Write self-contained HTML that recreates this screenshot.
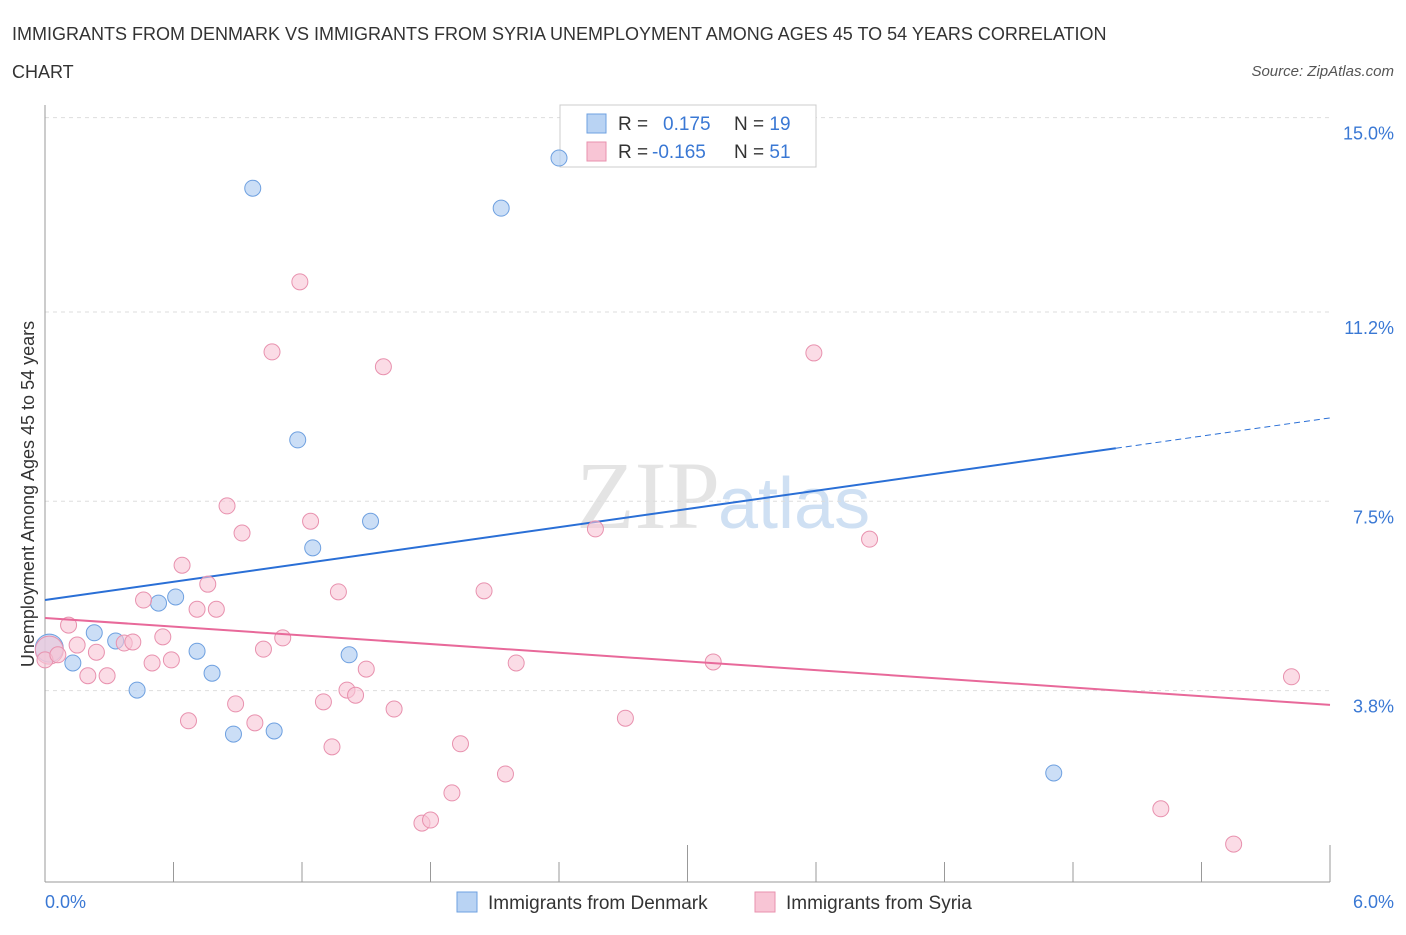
<!DOCTYPE html>
<html><head><meta charset="utf-8"><style>
body{margin:0;background:#fff;font-family:"Liberation Sans",sans-serif;}
</style></head><body>
<svg width="1406" height="930" xmlns="http://www.w3.org/2000/svg" id="chart" style="font-family:'Liberation Sans',sans-serif">
<text x="12" y="40" font-size="18" fill="#333">IMMIGRANTS FROM DENMARK VS IMMIGRANTS FROM SYRIA UNEMPLOYMENT AMONG AGES 45 TO 54 YEARS CORRELATION</text>
<text x="12" y="78" font-size="18" fill="#333">CHART</text>
<text x="1394" y="76" font-size="15" fill="#555" font-style="italic" text-anchor="end">Source: ZipAtlas.com</text>
<text x="720" y="528" font-size="96" fill="#e4e4e4" text-anchor="end" font-family="Liberation Serif,serif">ZIP</text>
<text x="718" y="528" font-size="72" fill="#cfe0f3">atlas</text>
<g id="grid"></g>
<line x1="45" y1="105" x2="45" y2="882" stroke="#999"/>
<line x1="45" y1="882" x2="1330" y2="882" stroke="#999"/>
<g id="ticks"></g>
<text transform="translate(34,494) rotate(-90)" font-size="18" fill="#333" text-anchor="middle">Unemployment Among Ages 45 to 54 years</text>
<text x="45" y="908" font-size="18" fill="#3a78d4">0.0%</text>
<text x="1394" y="908" font-size="18" fill="#3a78d4" text-anchor="end">6.0%</text>
<g>
<rect x="560" y="105" width="256" height="62" fill="#fff" stroke="#ccc"/>
<rect x="587" y="114" width="19" height="19" fill="#b9d3f3" stroke="#6ea0e0"/>
<rect x="587" y="142" width="19" height="19" fill="#f8c5d5" stroke="#e891ae"/>
<text x="618" y="130" font-size="19" fill="#333">R = <tspan fill="#3a78d4" x="663">0.175</tspan><tspan x="734" fill="#333">N = </tspan><tspan fill="#3a78d4">19</tspan></text>
<text x="618" y="158" font-size="19" fill="#333">R = <tspan fill="#3a78d4" x="652">-0.165</tspan><tspan x="734" fill="#333">N = </tspan><tspan fill="#3a78d4">51</tspan></text>
</g>
<g id="marks"></g>
<g>
<rect x="457" y="892" width="20" height="20" fill="#b9d3f3" stroke="#6ea0e0"/>
<text x="488" y="909" font-size="19" fill="#333">Immigrants from Denmark</text>
<rect x="755" y="892" width="20" height="20" fill="#f8c5d5" stroke="#e891ae"/>
<text x="786" y="909" font-size="19" fill="#333">Immigrants from Syria</text>
</g>
</svg>
<script>
const yTicks=[15.0,11.2,7.5,3.8];
const yTickLabels=["15.0%","11.2%","7.5%","3.8%"];
const denX=[0.02,0.13,0.23,0.33,0.43,0.53,0.61,0.71,0.78,0.88,0.97,1.07,1.18,1.25,1.42,1.52,2.13,2.40,4.71];
const denY=[4.63,4.34,4.93,4.77,3.81,5.51,5.63,4.57,4.14,2.95,13.62,3.01,8.70,6.59,4.50,7.11,13.23,14.21,2.19];
const syrX=[0.02,0.00,0.06,0.11,0.15,0.20,0.24,0.29,0.37,0.41,0.46,0.50,0.55,0.59,0.64,0.67,0.71,0.76,0.80,0.85,0.89,0.92,0.98,1.02,1.06,1.11,1.19,1.24,1.30,1.34,1.37,1.41,1.45,1.50,1.58,1.63,1.76,1.80,1.90,1.94,2.05,2.15,2.20,2.57,2.71,3.12,3.59,3.85,5.21,5.55,5.82];
const syrY=[4.59,4.40,4.50,5.08,4.69,4.09,4.55,4.09,4.73,4.75,5.57,4.34,4.85,4.40,6.25,3.21,5.39,5.88,5.39,7.41,3.54,6.88,3.17,4.61,10.42,4.83,11.79,7.11,3.58,2.70,5.73,3.81,3.71,4.22,10.13,3.44,1.21,1.27,1.80,2.76,5.75,2.17,4.34,6.96,3.26,4.36,10.40,6.76,1.49,0.80,4.07];
const denTrend=[5.57,9.13];
const syrTrend=[5.22,3.52];
const NS="http://www.w3.org/2000/svg";
function xs(v){return 45+v*214.17;}
function ys(v){return 885-v*51.16;}
function mk(tag,attrs,parent){const e=document.createElementNS(NS,tag);for(const k in attrs)e.setAttribute(k,attrs[k]);document.getElementById(parent).appendChild(e);return e;}
yTicks.forEach((t,i)=>{
 const l=mk('line',{x1:45,x2:1330,y1:ys(t),y2:ys(t),stroke:'#ddd','stroke-dasharray':'4,4'},'grid');
 
 
 const tx=mk('text',{x:1394,y:ys(t)+22,'font-size':18,fill:'#3a78d4','text-anchor':'end'},'grid');
 tx.textContent=yTickLabels[i];
 
 
});
for(let i=1;i<=10;i++){
 const x=45+i*128.5;const tall=(i==5||i==10);
 const l=mk('line',{x1:x,x2:x,y1:tall?845:862,y2:882,stroke:'#999'},'ticks');
 
 
}
let tl=mk('line',{x1:xs(0),y1:ys(denTrend[0]),x2:xs(5),y2:ys(denTrend[0]+(denTrend[1]-denTrend[0])*5/6),stroke:'#2a6fd6','stroke-width':2},'marks');


tl=mk('line',{x1:xs(5),y1:ys(denTrend[0]+(denTrend[1]-denTrend[0])*5/6),x2:xs(6),y2:ys(denTrend[1]),stroke:'#2a6fd6','stroke-width':1,'stroke-dasharray':'6,4'},'marks');


denX.forEach((x,i)=>{
 const c=mk('circle',{cx:xs(x),cy:ys(denY[i]),r:i==0?14:8,fill:'#b9d3f3','fill-opacity':0.75,stroke:'#6ea0e0','stroke-width':1},'marks');
 
 
});
syrX.forEach((x,i)=>{
 const c=mk('circle',{cx:xs(x),cy:ys(syrY[i]),r:i==0?14:8,fill:'#f8c5d5','fill-opacity':0.6,stroke:'#e891ae','stroke-width':1},'marks');
 
 
});
tl=mk('line',{x1:xs(0),y1:ys(syrTrend[0]),x2:xs(6),y2:ys(syrTrend[1]),stroke:'#e8699a','stroke-width':2},'marks');


</script>
</body></html>
